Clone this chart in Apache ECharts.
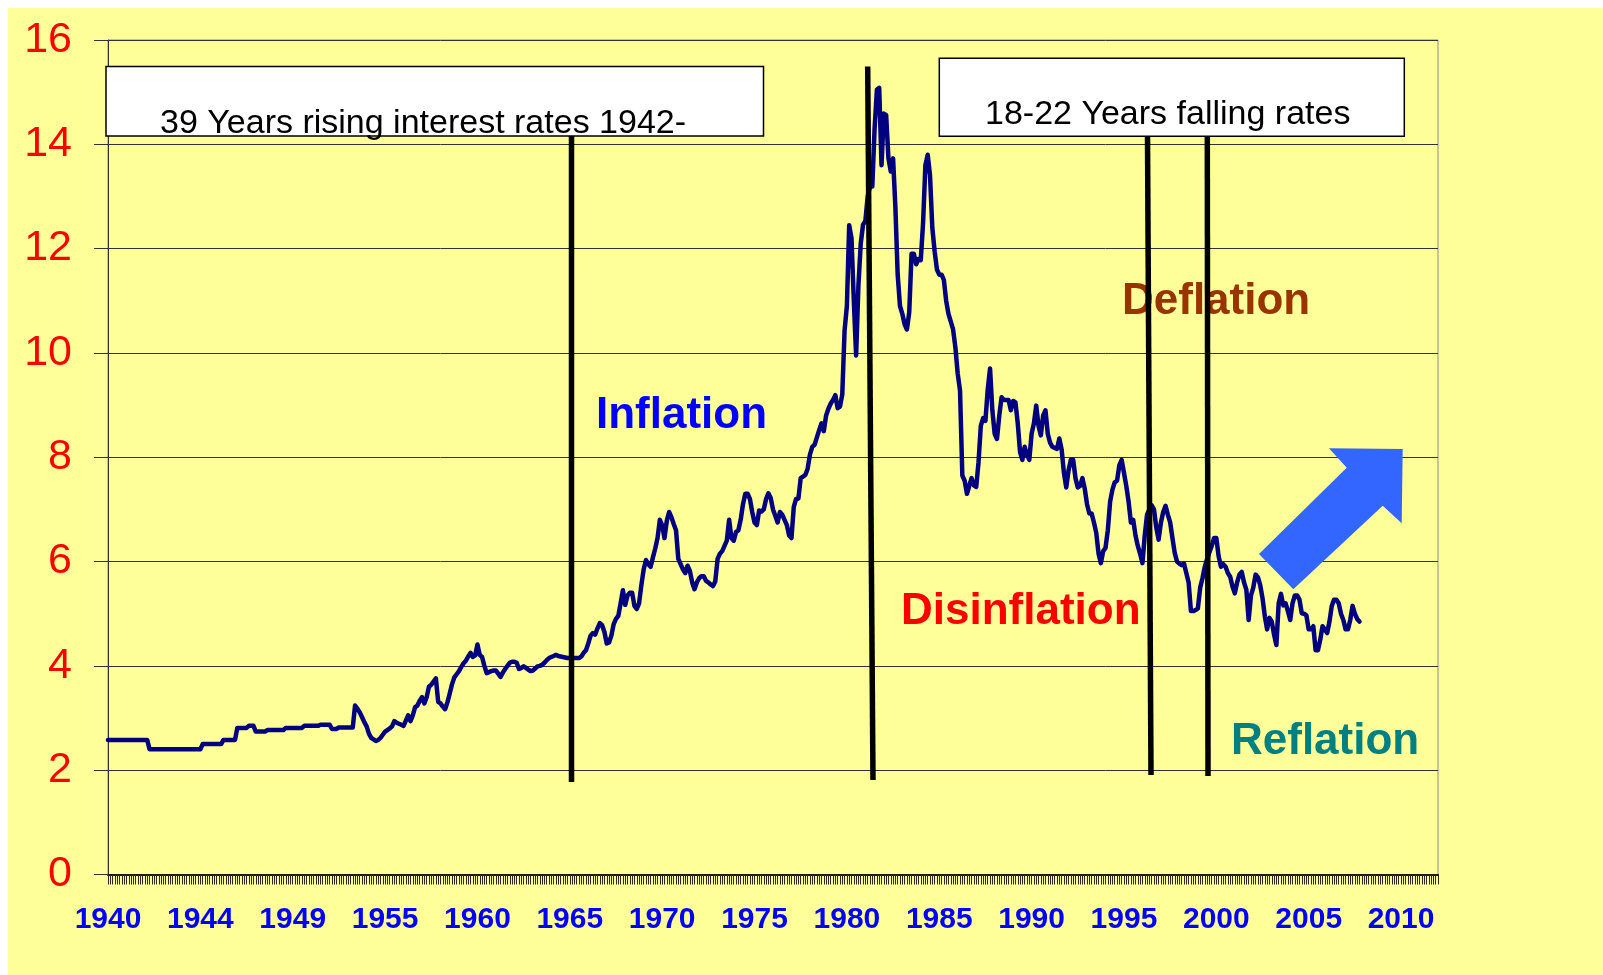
<!DOCTYPE html>
<html>
<head>
<meta charset="utf-8">
<script src="https://cdn.jsdelivr.net/npm/echarts/dist/echarts.min.js"></script>
<style>
html,body{margin:0;padding:0;background:#fff;}
#chart{width:1603px;height:975px;}
</style>
</head>
<body>
<div id="chart"></div>
<script>
// ---- DATA ----
const tickLabels = ['1940','1944','1949','1955','1960','1965','1970','1975','1980','1985','1990','1995','2000','2005','2010'];
const pointsPerLabel = 40;      // observations between two year labels
const slotCount = 577;          // category slots on the x axis (incl. empty tail)

const rates = [
 2.58,2.58,2.58,2.58,2.58,2.58,2.58,2.58,2.58,2.58,2.58,2.58,2.58,2.58,2.58,2.58,2.58,2.58,2.40,2.40,
 2.40,2.40,2.40,2.40,2.40,2.40,2.40,2.40,2.40,2.40,2.40,2.40,2.40,2.40,2.40,2.40,2.40,2.40,2.40,2.40,
 2.40,2.50,2.50,2.50,2.50,2.50,2.50,2.50,2.50,2.50,2.58,2.58,2.58,2.58,2.58,2.58,2.81,2.81,2.81,2.81,
 2.81,2.85,2.85,2.85,2.74,2.74,2.74,2.74,2.74,2.77,2.77,2.77,2.77,2.77,2.77,2.77,2.77,2.81,2.81,2.81,
 2.81,2.81,2.81,2.81,2.81,2.85,2.85,2.85,2.85,2.85,2.85,2.85,2.87,2.87,2.87,2.87,2.87,2.79,2.79,2.79,
 2.82,2.82,2.82,2.82,2.82,2.82,2.82,3.24,3.18,3.11,3.02,2.92,2.84,2.70,2.62,2.59,2.56,2.58,2.62,2.68,
 2.74,2.77,2.80,2.84,2.94,2.91,2.89,2.87,2.85,2.95,3.05,2.94,3.05,3.21,3.24,3.33,3.40,3.28,3.40,3.60,
 3.64,3.70,3.76,3.31,3.28,3.22,3.17,3.30,3.47,3.65,3.78,3.84,3.90,3.98,4.05,4.10,4.18,4.25,4.17,4.20,
 4.41,4.21,4.17,4.00,3.86,3.88,3.90,3.91,3.91,3.85,3.79,3.87,3.94,4.00,4.06,4.08,4.08,4.06,3.94,3.96,
 3.99,3.96,3.93,3.90,3.91,3.95,3.99,4.00,4.02,4.06,4.11,4.15,4.17,4.19,4.21,4.19,4.18,4.17,4.16,4.15,
 4.15,4.15,4.15,4.15,4.15,4.18,4.25,4.30,4.43,4.58,4.63,4.60,4.72,4.82,4.78,4.65,4.43,4.45,4.58,4.80,
 4.90,4.96,5.20,5.45,5.17,5.35,5.40,5.40,5.15,5.09,5.20,5.55,5.85,6.03,5.95,5.90,6.08,6.25,6.45,6.80,
 6.70,6.45,6.78,6.95,6.85,6.72,6.60,6.05,5.95,5.85,5.78,5.92,5.82,5.60,5.47,5.60,5.68,5.72,5.72,5.63,
 5.60,5.56,5.53,5.62,6.05,6.15,6.20,6.30,6.40,6.80,6.45,6.40,6.57,6.60,6.80,7.10,7.30,7.30,7.20,6.95,
 6.75,6.70,6.98,6.96,7.00,7.20,7.31,7.22,7.00,6.88,6.75,6.95,6.90,6.80,6.70,6.50,6.45,7.05,7.20,7.21,
 7.60,7.63,7.66,7.78,8.05,8.20,8.24,8.38,8.52,8.65,8.50,8.80,8.93,9.03,9.10,9.19,8.94,8.97,9.20,10.43,
 10.90,12.45,12.20,11.00,9.95,11.30,12.10,12.46,12.53,13.00,13.19,13.19,14.30,15.05,15.08,13.60,14.59,14.56,13.73,13.48,
 13.73,12.80,11.50,10.90,10.75,10.55,10.45,10.78,11.90,11.90,11.70,11.80,11.78,12.50,13.60,13.80,13.40,12.40,11.95,11.60,
 11.50,11.50,11.40,11.00,10.75,10.60,10.45,10.10,9.60,9.28,7.65,7.55,7.30,7.45,7.60,7.46,7.43,7.90,8.60,8.75,
 8.70,9.30,9.70,8.90,8.45,8.35,8.80,9.15,9.10,9.10,9.10,8.90,9.08,9.05,8.65,8.10,7.95,8.20,8.05,7.95,
 8.45,8.65,8.99,8.60,8.42,8.80,8.90,8.45,8.28,8.20,8.18,8.16,8.36,8.15,7.70,7.42,7.75,7.95,7.95,7.60,
 7.42,7.45,7.60,7.40,7.10,6.92,6.92,6.75,6.55,6.15,5.97,6.20,6.26,6.60,7.15,7.38,7.52,7.55,7.85,7.95,
 7.70,7.45,7.15,6.75,6.80,6.50,6.30,6.15,5.97,6.50,6.90,7.00,7.08,7.00,6.65,6.42,6.75,6.95,7.07,6.90,
 6.75,6.45,6.16,6.00,5.96,5.93,5.96,5.78,5.60,5.05,5.05,5.07,5.10,5.50,5.68,5.90,6.05,6.18,6.30,6.45,
 6.45,6.10,5.90,5.95,5.90,5.78,5.71,5.52,5.39,5.60,5.75,5.80,5.60,5.46,4.88,5.35,5.50,5.75,5.70,5.55,
 5.30,4.95,4.70,4.92,4.85,4.60,4.40,5.20,5.38,5.16,5.20,5.05,4.88,5.20,5.35,5.35,5.27,5.01,5.00,4.97,
 4.70,4.70,4.76,4.30,4.30,4.50,4.76,4.70,4.63,4.85,5.15,5.27,5.27,5.20,5.00,4.88,4.70,4.70,4.88,5.15,
 5.00,4.90,4.85
];

const yMin = 0, yMax = 16, yStep = 2;

const boxTexts = ['39 Years rising interest rates 1942-', '18-22 Years falling rates'];
const phaseLabels = ['Inflation', 'Deflation', 'Disinflation', 'Reflation'];

// ---- BUILD ----
const categories = [];
for (let j = 0; j < slotCount; j++) {
  categories.push(j % pointsPerLabel === 0 ? tickLabels[j / pointsPerLabel] : '');
}

const FONT = '"Liberation Sans", Arial, Helvetica, sans-serif';

function label(text, x, y, size, color) {
  return {
    type: 'text', x: x, y: y, z: 110,
    style: {
      text: text, font: 'bold ' + size + 'px ' + FONT, fill: color,
      textAlign: 'left', textVerticalAlign: 'middle', align: 'left', verticalAlign: 'middle'
    }
  };
}
function vline(x1, y1, x2, y2) {
  return { type: 'line', z: 120, shape: { x1: x1, y1: y1, x2: x2, y2: y2 },
           style: { stroke: '#000', lineWidth: 5.5 } };
}
function box(x, y, w, h, text, tx, ty) {
  return [
    { type: 'rect', z: 130, shape: { x: x, y: y, width: w, height: h },
      style: { fill: '#fff', stroke: '#000', lineWidth: 1.5 } },
    { type: 'text', z: 131, x: tx, y: ty,
      style: { text: text, font: '34px ' + FONT, fill: '#000',
               textAlign: 'left', textVerticalAlign: 'middle', align: 'left', verticalAlign: 'middle' } }
  ];
}

const chart = echarts.init(document.getElementById('chart'), null, { renderer: 'canvas' });

const option = {
  backgroundColor: '#FFFF99',
  animation: false,
  grid: { left: 108, right: 165, top: 40, bottom: 100.5, show: true,
          borderColor: '#8c8c8c', borderWidth: 1, backgroundColor: 'transparent' },
  xAxis: {
    type: 'category', data: categories, boundaryGap: false,
    axisLine: { show: true, lineStyle: { color: '#1a1a1a', width: 2 } },
    axisTick: { show: true, interval: 0, length: 10, inside: false, lineStyle: { color: '#2a2a1a', width: 1 } },
    axisLabel: { interval: function (idx, val) { return idx % pointsPerLabel === 0; },
                 color: '#0000FF', fontWeight: 'bold', fontSize: 30,
                 fontFamily: FONT, margin: 30, hideOverlap: false },
    splitLine: { show: false }
  },
  yAxis: {
    type: 'value', min: yMin, max: yMax, interval: yStep,
    axisLine: { show: true, lineStyle: { color: '#333', width: 1 } },
    axisTick: { show: true, length: 14, inside: false, lineStyle: { color: '#333', width: 1 } },
    axisLabel: { color: '#FF0000', fontSize: 43, fontFamily: FONT, margin: 36, padding: [6, 0, 0, 0] },
    splitLine: { show: true, lineStyle: { color: '#333', width: 1 } }
  },
  series: [{
    type: 'line', data: rates, showSymbol: false, symbol: 'none', smooth: false,
    lineStyle: { color: '#000080', width: 4.5, join: 'round', cap: 'round' }, z: 5
  }],
  graphic: [
    { type: 'rect', z: 200, shape: { x: 0, y: 0, width: 1603, height: 8 }, style: { fill: '#fff' } },
    { type: 'rect', z: 200, shape: { x: 0, y: 0, width: 8, height: 975 }, style: { fill: '#fff' } },
    // phase labels
    label(phaseLabels[0], 596, 416, 44, '#0000FF'),
    label(phaseLabels[1], 1122, 302, 44, '#993300'),
    label(phaseLabels[2], 901, 612, 44, '#FF0000'),
    label(phaseLabels[3], 1231, 742, 44, '#008080'),
    // arrow
    { type: 'polygon', z: 110,
      shape: { points: [[1259,554],[1346.7,467.7],[1329,448.3],[1402.7,449],[1401.7,523.3],[1382.7,505.7],[1293.3,589.3]] },
      style: { fill: '#3366FF' } },
    // period dividers
    vline(571.5, 136, 571.5, 782),
    vline(867.7, 66.5, 873, 780),
    vline(1147.5, 136, 1151, 775),
    vline(1207.3, 136, 1208, 776),
    // text boxes
    ...box(106, 66.5, 657.5, 69.5, boxTexts[0], 160, 124),
    ...box(939.3, 58.3, 465, 78, boxTexts[1], 985, 114.5)
  ]
};
chart.setOption(option);
</script>
</body>
</html>
